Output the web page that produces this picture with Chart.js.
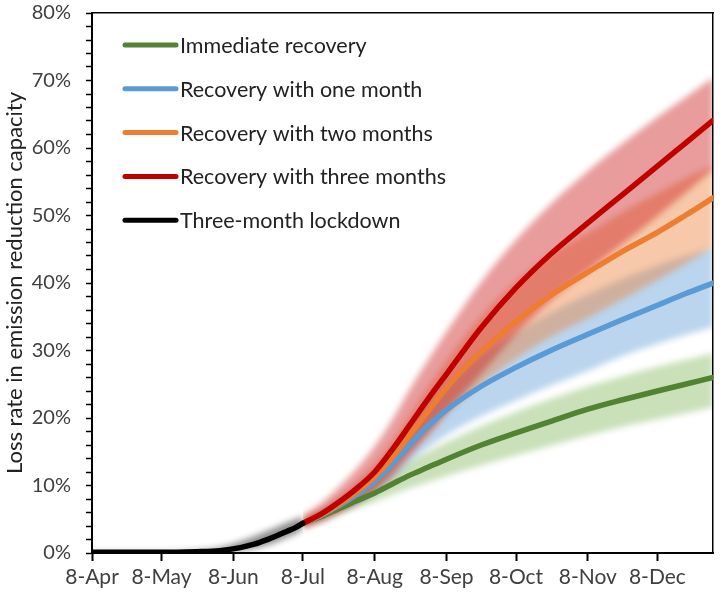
<!DOCTYPE html>
<html>
<head>
<meta charset="utf-8">
<script src="https://cdn.jsdelivr.net/npm/chart.js@4"></script>
<style>
  html, body { margin: 0; padding: 0; background: #ffffff; }
  #wrap { width: 722px; height: 599px; }
</style>
</head>
<body>
<div id="wrap"><canvas id="c" width="722" height="599"></canvas></div>
<script>
// ---- Data (days since 8-Apr; values in %) ----
const tickDays = [0, 30, 61, 91, 122, 153, 183, 214, 244];
const tickLabels = ['8-Apr', '8-May', '8-Jun', '8-Jul', '8-Aug', '8-Sep', '8-Oct', '8-Nov', '8-Dec'];

const seriesNames = ['Immediate recovery', 'Recovery with one month', 'Recovery with two months', 'Recovery with three months', 'Three-month lockdown'];

const lockdownDays  = [0, 15, 30, 45, 55, 64, 70, 75, 80, 84, 88, 91];
const lockdown      = [0.1, 0.1, 0.1, 0.2, 0.35, 0.8, 1.3, 1.9, 2.6, 3.2, 3.8, 4.4];
const lockdownUpper = [0.2, 0.2, 0.2, 0.4, 0.8, 1.7, 2.5, 3.2, 3.9, 4.5, 5.0, 5.4];
const lockdownLower = [0.0, 0.0, 0.0, 0.05, 0.15, 0.4, 0.7, 1.1, 1.7, 2.3, 2.9, 3.6];

const recoveryDays = [91, 99, 106, 114, 122, 130, 137, 145, 153, 168, 183, 198, 214, 229, 244, 256, 268];

const immediate      = [4.4, 5.4, 6.5, 7.7, 8.9, 10.3, 11.5, 12.7, 13.9, 16.0, 17.8, 19.5, 21.3, 22.7, 24.0, 25.0, 26.0];
const immediateUpper = [4.9, 6.0, 7.3, 8.8, 10.3, 12.0, 13.6, 15.0, 16.4, 18.8, 20.9, 22.8, 24.7, 26.2, 27.6, 28.6, 29.6];
const immediateLower = [3.9, 4.8, 5.7, 6.7, 7.6, 8.7, 9.6, 10.5, 11.4, 13.0, 14.5, 15.9, 17.4, 18.7, 19.8, 20.7, 21.6];

const oneMonth      = [4.4, 5.6, 6.9, 8.6, 10.6, 13.3, 16.0, 18.8, 21.2, 24.7, 27.5, 30.0, 32.4, 34.6, 36.7, 38.4, 40.0];
const oneMonthUpper = [4.9, 6.3, 7.8, 9.9, 12.3, 15.5, 18.7, 22.0, 25.0, 29.3, 32.6, 35.6, 38.3, 40.6, 42.6, 44.0, 45.3];
const oneMonthLower = [3.9, 4.9, 6.0, 7.3, 8.9, 11.1, 13.4, 15.6, 17.5, 20.3, 22.6, 24.8, 27.0, 29.2, 31.0, 32.3, 33.5];

const twoMonths      = [4.4, 5.7, 7.1, 9.0, 11.3, 14.3, 17.4, 21.0, 24.5, 29.8, 34.3, 38.2, 41.6, 44.7, 47.5, 50.0, 52.6];
const twoMonthsUpper = [4.9, 6.4, 8.0, 10.3, 13.0, 16.5, 20.2, 24.4, 28.4, 35.0, 40.2, 44.2, 47.4, 50.5, 53.3, 55.5, 57.4];
const twoMonthsLower = [3.9, 5.0, 6.2, 7.7, 9.6, 12.1, 14.8, 17.6, 20.6, 25.0, 28.8, 32.0, 34.8, 37.6, 40.4, 42.8, 45.3];

const threeMonths      = [4.4, 5.8, 7.4, 9.5, 12.0, 15.5, 18.9, 22.8, 26.5, 33.4, 39.3, 44.3, 48.9, 53.1, 57.3, 60.7, 64.1];
const threeMonthsUpper = [5.6, 7.4, 9.6, 12.4, 15.8, 20.0, 24.2, 28.6, 32.8, 40.2, 46.4, 51.7, 56.6, 60.7, 64.6, 67.5, 70.4];
const threeMonthsLower = [3.6, 4.6, 5.8, 7.3, 9.2, 11.7, 14.4, 17.6, 20.8, 26.6, 32.4, 37.4, 41.8, 45.8, 49.9, 53.3, 56.8];

const lineColors = ['#548235', '#5b9bd5', '#ed7d31', '#c00000', '#000000'];
const bandColors = ['rgba(112,173,71,0.38)', 'rgba(91,155,213,0.42)', 'rgba(237,125,49,0.42)', 'rgba(200,20,20,0.42)', 'rgba(0,0,0,0.45)'];

// ---- helpers ----
const pts = (xs, ys) => xs.map((x, i) => ({x: x, y: ys[i]}));
const lineDs = (label, xs, ys, color) => ({
  label, data: pts(xs, ys), borderColor: color, backgroundColor: color,
  borderWidth: 5.5, pointRadius: 0, fill: false, cubicInterpolationMode: 'monotone',
  borderCapStyle: 'round', borderJoinStyle: 'round'
});
const bandUpper = (xs, ys, color) => ({
  label: '_band', data: pts(xs, ys), borderWidth: 0, borderColor: 'rgba(0,0,0,0)',
  backgroundColor: color, pointRadius: 0, fill: '+1', cubicInterpolationMode: 'monotone'
});
const bandLower = (xs, ys) => ({
  label: '_band', data: pts(xs, ys), borderWidth: 0, borderColor: 'rgba(0,0,0,0)',
  pointRadius: 0, fill: false, cubicInterpolationMode: 'monotone'
});

const datasets = [
  lineDs(seriesNames[4], lockdownDays, lockdown, lineColors[4]),
  lineDs(seriesNames[3], recoveryDays, threeMonths, lineColors[3]),
  lineDs(seriesNames[2], recoveryDays, twoMonths, lineColors[2]),
  lineDs(seriesNames[1], recoveryDays, oneMonth, lineColors[1]),
  lineDs(seriesNames[0], recoveryDays, immediate, lineColors[0]),
  bandUpper(lockdownDays, lockdownUpper, bandColors[4]), bandLower(lockdownDays, lockdownLower),
  bandUpper(recoveryDays, threeMonthsUpper, bandColors[3]), bandLower(recoveryDays, threeMonthsLower),
  bandUpper(recoveryDays, twoMonthsUpper, bandColors[2]), bandLower(recoveryDays, twoMonthsLower),
  bandUpper(recoveryDays, oneMonthUpper, bandColors[1]), bandLower(recoveryDays, oneMonthLower),
  bandUpper(recoveryDays, immediateUpper, bandColors[0]), bandLower(recoveryDays, immediateLower)
];

const FONT = 'Lato';
const TEXT = '#404040';

// Soft (blurred) edges for uncertainty bands
const blurBands = {
  id: 'blurBands',
  beforeRender(chart) { chart.ctx.save(); chart.ctx.filter = 'blur(3px)'; },
  beforeDraw(chart) { chart.ctx.restore(); }
};

// Legend inside plot area
const insideLegend = {
  id: 'insideLegend',
  afterDatasetsDraw(chart) {
    const ctx = chart.ctx;
    const a = chart.chartArea;
    ctx.save();
    ctx.font = '21.5px ' + FONT;
    ctx.textBaseline = 'middle';
    ctx.textAlign = 'left';
    for (let i = 0; i < seriesNames.length; i++) {
      const y = a.top + 32 + i * 43.8;
      ctx.strokeStyle = lineColors[i];
      ctx.lineWidth = 5;
      ctx.lineCap = 'round';
      ctx.beginPath();
      ctx.moveTo(a.left + 33, y);
      ctx.lineTo(a.left + 84, y);
      ctx.stroke();
      ctx.fillStyle = '#222222';
      ctx.fillText(seriesNames[i], a.left + 88, y + 1);
    }
    ctx.restore();
  }
};

new Chart(document.getElementById('c'), {
  type: 'line',
  data: { datasets },
  options: {
    responsive: false,
    devicePixelRatio: 1,
    animation: false,
    layout: { padding: 0 },
    plugins: {
      legend: { display: false },
      tooltip: { enabled: false },
      filler: { drawTime: 'beforeDraw', propagate: false }
    },
    scales: {
      x: {
        type: 'linear', position: 'bottom', min: 0, max: 268,
        afterBuildTicks: (s) => { s.ticks = tickDays.map(v => ({ value: v })); },
        afterFit: (s) => { s.height = 46; s.paddingLeft = 0; s.paddingRight = 0; },
        ticks: {
          autoSkip: false, maxRotation: 0, padding: 4, color: TEXT,
          font: { family: FONT, size: 21 },
          callback: (v) => { const k = tickDays.indexOf(v); return k >= 0 ? tickLabels[k] : ''; }
        },
        grid: { display: true, drawOnChartArea: false, drawTicks: true, tickLength: 8, tickColor: '#000', tickWidth: 2 },
        border: { display: true, color: '#000', width: 2 }
      },
      y: {
        type: 'linear', position: 'left', min: 0, max: 80,
        afterFit: (s) => { s.width = 92; s.paddingTop = 0; s.paddingBottom = 0; },
        ticks: {
          stepSize: 2, autoSkip: false, padding: 15, color: TEXT,
          font: { family: FONT, size: 20 },
          callback: (v) => (v % 10 === 0 ? v + '%' : '')
        },
        grid: { display: true, drawOnChartArea: false, drawTicks: true, tickLength: 6, tickColor: '#000', tickWidth: 1.5 },
        border: { display: true, color: '#000', width: 2 },
        title: {
          display: true, text: 'Loss rate in emission reduction capacity', color: '#222222',
          font: { family: FONT, size: 22 }, padding: { top: 2, bottom: 0 }
        }
      },
      xTop: {
        type: 'linear', axis: 'x', position: 'top', display: true,
        afterFit: (s) => { s.height = 13; s.paddingLeft = 0; s.paddingRight = 0; },
        ticks: { display: false }, grid: { display: false, drawTicks: false },
        border: { display: true, color: '#000', width: 1.5 }
      },
      yRight: {
        type: 'linear', axis: 'y', position: 'right', display: true,
        afterFit: (s) => { s.width = 9; s.paddingTop = 0; s.paddingBottom = 0; },
        ticks: { display: false }, grid: { display: false, drawTicks: false },
        border: { display: true, color: '#000', width: 1.5 }
      }
    }
  },
  plugins: [blurBands, insideLegend]
});
</script>
</body>
</html>
